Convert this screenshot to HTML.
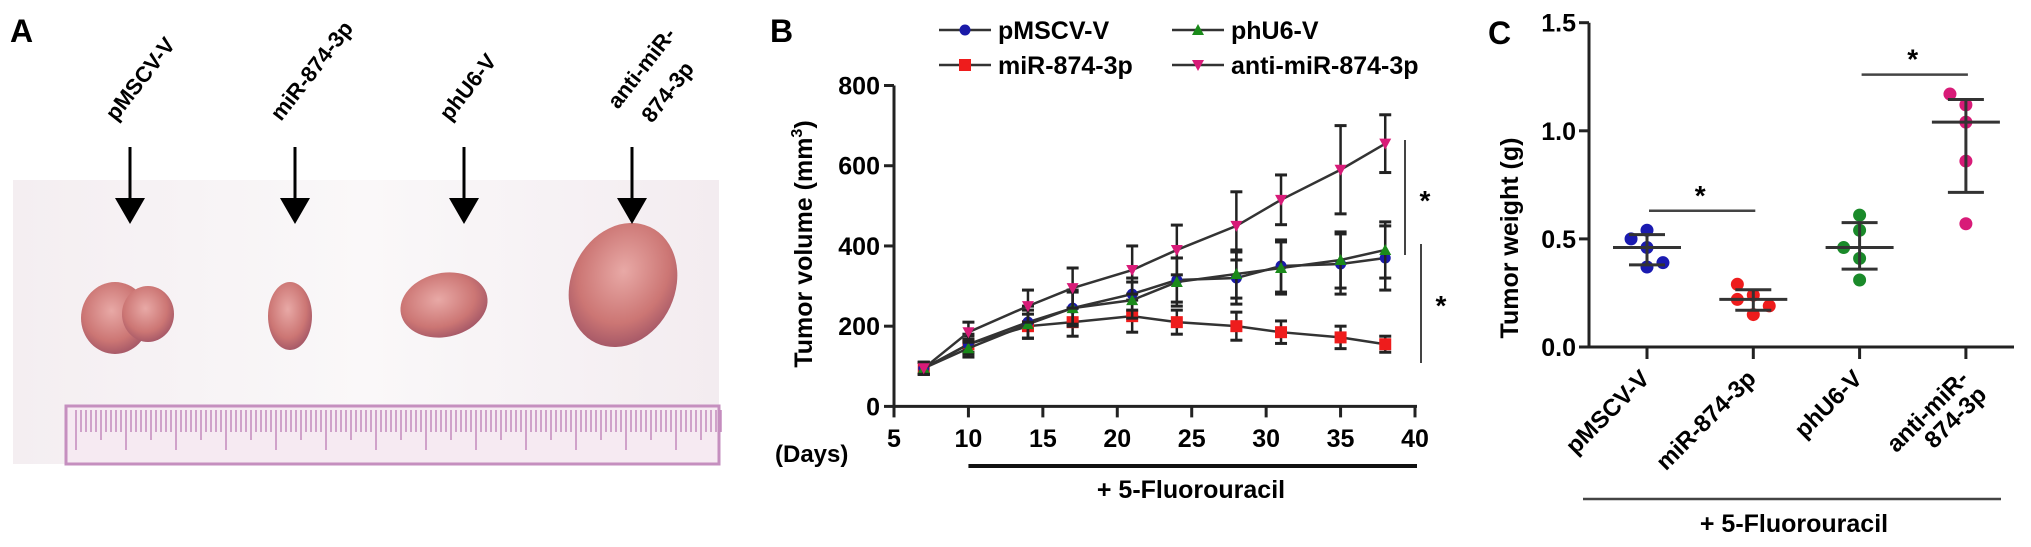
<!DOCTYPE html>
<html><head><meta charset="utf-8"><style>
body{margin:0;background:#fff;}
svg{display:block;font-family:"Liberation Sans",Arial,sans-serif;font-weight:bold;}
</style></head><body>
<svg id="fig" width="2031" height="547" viewBox="0 0 2031 547">
<defs>
<linearGradient id="bg" x1="0" x2="1" y1="0" y2="0"><stop offset="0" stop-color="#f4eef1"/><stop offset="0.5" stop-color="#faf8f9"/><stop offset="1" stop-color="#f3ecf0"/></linearGradient>
<radialGradient id="tum" cx="0.45" cy="0.4" r="0.6"><stop offset="0" stop-color="#e8a9a6"/><stop offset="0.7" stop-color="#cc7674"/><stop offset="1" stop-color="#a85a68"/></radialGradient>
</defs>
<g>
<text x="10" y="42" font-size="32">A</text>
<rect x="13" y="180" width="706" height="284" fill="url(#bg)"/>
<rect x="66" y="406" width="653" height="58" fill="#f6eaf2" stroke="#c58fbf" stroke-width="3"/>
<g id="rulerTicks" stroke="#c48abd" stroke-width="1.5"></g>
<ellipse cx="115" cy="318" rx="34" ry="36" fill="url(#tum)"/>
<ellipse cx="148" cy="314" rx="26" ry="28" fill="url(#tum)"/>
<ellipse cx="290" cy="316" rx="22" ry="34" fill="url(#tum)"/>
<ellipse cx="444" cy="305" rx="44" ry="32" fill="url(#tum)" transform="rotate(-12 444 305)"/>
<ellipse cx="623" cy="285" rx="52" ry="64" fill="url(#tum)" transform="rotate(25 623 285)"/>
<g id="arrows"></g>
</g>
<g id="panelB">
<text x="770" y="42" font-size="32">B</text>
</g>
<g id="panelC">
<text x="1488" y="44" font-size="32">C</text>
</g>
</svg>
<script>
const NS='http://www.w3.org/2000/svg';
function mk(tag,attrs,parent,txt){const e=document.createElementNS(NS,tag);for(const k in attrs)e.setAttribute(k,attrs[k]);if(txt!==undefined)e.textContent=txt;parent.appendChild(e);return e;}

const photoLabels=['pMSCV-V','miR-874-3p','phU6-V','anti-miR-'];
const arrowXs=[130,295,464,632];
const gA=document.getElementById('arrows');
photoLabels.forEach((l,i)=>{
  const x=arrowXs[i];
  const ln=mk('line',{x1:x,y1:147,x2:x,y2:200,stroke:'#000','stroke-width':3},gA);
  
  
  const tri=mk('polygon',{points:`${x-15},198 ${x+15},198 ${x},224`,fill:'#000'},gA);
  
  
  const t=mk('text',{x:x-14,y:i==3?110:122,'font-size':22,transform:`rotate(-52 ${x-14} ${i==3?110:122})`},gA,l);
  
  
});
{const t=mk('text',{x:652,y:124,'font-size':22,transform:'rotate(-52 652 124)'},gA,'874-3p');

}
const rt=document.getElementById('rulerTicks');
for(let i=0;i<130;i++){const x=76+i*5;const h=i%10==0?40:(i%5==0?30:22);mk('line',{x1:x,y1:410,x2:x,y2:410+h},rt);}

// ---- Panel B data ----
const days=[7,10,14,17,21,24,28,31,35,38];
const seriesNames=['pMSCV-V','miR-874-3p','phU6-V','anti-miR-874-3p'];
const seriesColors=['#1a1aa8','#ee1c1c','#1a8a1a','#d81b78'];
const volPMSCV=[95,155,210,245,280,315,320,350,355,370];
const volMiR=[95,155,200,210,225,210,200,185,172,155];
const volPhU6=[95,145,205,245,265,310,330,345,365,390];
const volAnti=[95,185,250,295,340,390,450,515,590,655];
const errPMSCV=[15,25,40,45,40,55,65,65,75,80];
const errMiR=[15,20,30,35,40,30,35,28,28,20];
const errPhU6=[15,22,35,40,45,60,60,65,70,70];
const errAnti=[15,25,40,50,60,62,85,62,110,72];
const xTicksB=[5,10,15,20,25,30,35,40];
const yTicksB=[0,200,400,600,800];
const bx=v=>894+(v-5)*(1415-894)/35;
const by=v=>406.4-v*(406.4-85.5)/800;
const gB=document.getElementById('panelB');
{const a=mk('line',{x1:894,y1:by(800),x2:894,y2:by(0),stroke:'#222','stroke-width':3},gB);}
{const a=mk('line',{x1:894,y1:by(0),x2:1417,y2:by(0),stroke:'#222','stroke-width':3},gB);}
yTicksB.forEach(v=>{mk('line',{x1:884,y1:by(v),x2:894,y2:by(v),stroke:'#222','stroke-width':3},gB);
 const t=mk('text',{x:880,y:by(v)+9,'font-size':25,'text-anchor':'end'},gB,v);
 });
xTicksB.forEach(v=>{mk('line',{x1:bx(v),y1:by(0),x2:bx(v),y2:by(0)+11,stroke:'#222','stroke-width':3},gB);
 const t=mk('text',{x:bx(v),y:447,'font-size':25,'text-anchor':'middle'},gB,v);
 });
{const t=mk('text',{x:775,y:462,'font-size':24},gB,'(Days)');}
{const t=mk('text',{x:0,y:0,'font-size':25,'text-anchor':'middle',transform:'translate(812,244) rotate(-90)'},gB,'');
 
 t.appendChild(document.createTextNode('Tumor volume (mm'));
 const s=document.createElementNS(NS,'tspan');s.setAttribute('font-size','16');s.setAttribute('dy','-10');s.textContent='3';t.appendChild(s);
 const s2=document.createElementNS(NS,'tspan');s2.setAttribute('dy','10');s2.textContent=')';t.appendChild(s2);}
{const l=mk('line',{x1:bx(10),y1:466,x2:1417,y2:466,stroke:'#111','stroke-width':4},gB);}
{const t=mk('text',{x:1191,y:498,'font-size':25,'text-anchor':'middle'},gB,'+ 5-Fluorouracil');}
const vals=[volPMSCV,volMiR,volPhU6,volAnti];
const errs=[errPMSCV,errMiR,errPhU6,errAnti];
[1,0,2,3].forEach(si=>{
  const v=vals[si],e=errs[si];
  const g=mk('g',{},gB);
  
  
  days.forEach((d,i)=>{
    const x=bx(d);
    mk('line',{x1:x,y1:by(v[i]-e[i]),x2:x,y2:by(v[i]+e[i]),stroke:'#222','stroke-width':2.5},g);
    mk('line',{x1:x-6,y1:by(v[i]+e[i]),x2:x+6,y2:by(v[i]+e[i]),stroke:'#222','stroke-width':3},g);
    mk('line',{x1:x-6,y1:by(v[i]-e[i]),x2:x+6,y2:by(v[i]-e[i]),stroke:'#222','stroke-width':3},g);
  });
  mk('polyline',{points:days.map((d,i)=>bx(d)+','+by(v[i])).join(' '),fill:'none',stroke:'#333','stroke-width':2.5},g);
  days.forEach((d,i)=>{
    const x=bx(d),y=by(v[i]);let m;
    if(si==0) m=mk('circle',{cx:x,cy:y,r:5.5,fill:seriesColors[si]},g);
    else if(si==1) m=mk('rect',{x:x-6,y:y-6,width:12,height:12,fill:seriesColors[si]},g);
    else if(si==2) m=mk('polygon',{points:`${x-6},${y+5} ${x+6},${y+5} ${x},${y-6}`,fill:seriesColors[si]},g);
    else m=mk('polygon',{points:`${x-6},${y-5} ${x+6},${y-5} ${x},${y+6}`,fill:seriesColors[si]},g);
    
    
  });
});
const legPos=[[939,30],[939,65],[1172,30],[1172,65]];
seriesNames.forEach((n,si)=>{
  const [x,y]=legPos[si];
  const g=mk('g',{},gB);
  
  
  mk('line',{x1:x,y1:y,x2:x+52,y2:y,stroke:'#333','stroke-width':2.5},g);
  const cx=x+26;
  if(si==0) mk('circle',{cx:cx,cy:y,r:5.5,fill:seriesColors[si]},g);
  else if(si==1) mk('rect',{x:cx-6,y:y-6,width:12,height:12,fill:seriesColors[si]},g);
  else if(si==2) mk('polygon',{points:`${cx-6},${y+5} ${cx+6},${y+5} ${cx},${y-6}`,fill:seriesColors[si]},g);
  else mk('polygon',{points:`${cx-6},${y-5} ${cx+6},${y-5} ${cx},${y+6}`,fill:seriesColors[si]},g);
  mk('text',{x:x+59,y:y+9,'font-size':25},g,n);
});
[[1405,140,255,1425,210],[1421,244,363,1441,315]].forEach(s=>{
  const g=mk('g',{},gB);
  
  
  mk('line',{x1:s[0],y1:s[1],x2:s[0],y2:s[2],stroke:'#444','stroke-width':2},g);
  mk('text',{x:s[3],y:s[4],'font-size':28,'text-anchor':'middle'},g,'*');
});

// ---- Panel C data ----
const groups=['pMSCV-V','miR-874-3p','phU6-V','anti-miR-'];
const groupColors=['#1a1ab0','#ee1c1c','#1a8a2a','#d81b78'];
const wPMSCV=[0.54,0.50,0.46,0.39,0.37];
const wMiR=[0.29,0.24,0.22,0.19,0.15];
const wPhU6=[0.61,0.54,0.46,0.41,0.31];
const wAnti=[1.17,1.12,1.04,0.86,0.57];
const jitter=[[0,-0.15,0,0.15,0],[-0.15,0,-0.15,0.15,0],[0,0,-0.15,0,0],[-0.15,0,0,0,0]];
const yTicksC=[0.0,0.5,1.0,1.5];
const cxs=i=>1647+i*106.3;
const cy=v=>347-v*(347-22.7)/1.5;
function quant(arr,p){const s=[...arr].sort((a,b)=>a-b);const pos=p*(s.length+1)-1;const lo=Math.max(0,Math.min(s.length-1,Math.floor(pos)));const hi=Math.max(0,Math.min(s.length-1,lo+1));const f=pos-Math.floor(pos);return s[lo]+(s[hi]-s[lo])*f;}
const gC=document.getElementById('panelC');
{const a=mk('line',{x1:1589,y1:cy(1.5),x2:1589,y2:cy(0),stroke:'#222','stroke-width':3},gC);}
{const a=mk('line',{x1:1589,y1:cy(0),x2:2014,y2:cy(0),stroke:'#222','stroke-width':3},gC);}
yTicksC.forEach(v=>{mk('line',{x1:1579,y1:cy(v),x2:1589,y2:cy(v),stroke:'#222','stroke-width':3},gC);
 const t=mk('text',{x:1576,y:cy(v)+9,'font-size':25,'text-anchor':'end'},gC,v.toFixed(1));
 });
{const t=mk('text',{x:0,y:0,'font-size':25,'text-anchor':'middle',transform:'translate(1518,238) rotate(-90)'},gC,'Tumor weight (g)');}
groups.forEach((n,i)=>{
  const x=cxs(i);
  mk('line',{x1:x,y1:cy(0),x2:x,y2:cy(0)+12,stroke:'#222','stroke-width':3},gC);
  const t=mk('text',{x:x+4,y:380,'font-size':24,'text-anchor':'end',transform:`rotate(-45 ${x+4} 380)`},gC,n);
  
});
{const t=mk('text',{x:cxs(3)+22,y:396,'font-size':24,'text-anchor':'end',transform:`rotate(-45 ${cxs(3)+22} 396)`},gC,'874-3p');}
{const l=mk('line',{x1:1583,y1:499,x2:2001,y2:499,stroke:'#444','stroke-width':2.5},gC);}
{const t=mk('text',{x:1794,y:532,'font-size':25,'text-anchor':'middle'},gC,'+ 5-Fluorouracil');}
const wvals=[wPMSCV,wMiR,wPhU6,wAnti];
wvals.forEach((w,i)=>{
  const g=mk('g',{},gC);
  
  
  const x=cxs(i);
  const med=quant(w,0.5),q1=quant(w,0.25),q3=quant(w,0.75);
  w.forEach((v,j)=>{
    const c=mk('circle',{cx:x+jitter[i][j]*106.3,cy:cy(v),r:6.5,fill:groupColors[i]},g);
    
    
  });
  mk('line',{x1:x,y1:cy(q3),x2:x,y2:cy(q1),stroke:'#333','stroke-width':3},g);
  mk('line',{x1:x-34,y1:cy(med),x2:x+34,y2:cy(med),stroke:'#333','stroke-width':3},g);
  mk('line',{x1:x-18,y1:cy(q3),x2:x+18,y2:cy(q3),stroke:'#333','stroke-width':3},g);
  mk('line',{x1:x-18,y1:cy(q1),x2:x+18,y2:cy(q1),stroke:'#333','stroke-width':3},g);
});
[[0,1,0.63],[2,3,1.26]].forEach(s=>{
  const g=mk('g',{},gC);
  
  
  mk('line',{x1:cxs(s[0])+2,y1:cy(s[2]),x2:cxs(s[1])+2,y2:cy(s[2]),stroke:'#444','stroke-width':2.5},g);
  mk('text',{x:(cxs(s[0])+cxs(s[1]))/2,y:cy(s[2])-6,'font-size':28,'text-anchor':'middle'},g,'*');
});
</script>
</body></html>
